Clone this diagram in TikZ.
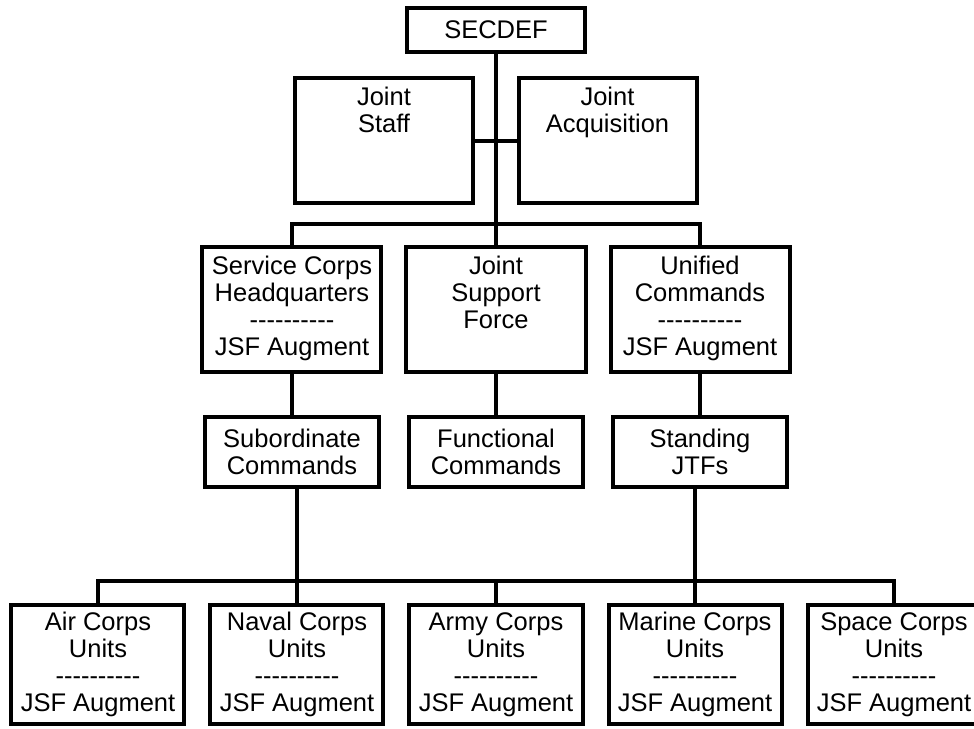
\documentclass[tikz,border=0pt]{standalone}
\usepackage{fontspec}
\setmainfont{Liberation Sans}[Ligatures=TeXOff]
\usetikzlibrary{positioning}

\begin{document}
\begin{tikzpicture}[on grid,line width=4pt,
		box/.style={draw,inner sep=0pt,align=center,font=\fontsize{25.5pt}{27pt}\selectfont},
		secbox/.style={box,minimum width=178pt,minimum height=44pt},
		tallbox/.style={box,minimum width=178pt,inner ysep=9pt,text depth=62pt},
		midbox/.style={box,minimum width=179pt,inner ysep=9pt,text depth=8pt},
		cmdbox/.style={box,minimum width=174pt,minimum height=70pt},
		unitbox/.style={box,minimum width=173pt,minimum height=119pt}]
				\useasboundingbox (-496pt,30pt) rectangle (478pt,-698pt);
				\node[secbox] (secdef) at (0,0) {SECDEF};
				\node[tallbox] (staff) [below left=110.5pt and 112pt of secdef] {Joint\\Staff};
				\node[tallbox] (acq) [below right=110.5pt and 111.5pt of secdef] {Joint\\Acquisition};
				\node[midbox,text depth=35pt] (jsf) [below=279.5pt of secdef] {Joint\\Support\\Force};
				\node[midbox] (service) [left=204pt of jsf] {Service Corps\\Headquarters\\----------\\JSF Augment};
				\node[midbox] (unified) [right=204pt of jsf] {Unified\\Commands\\----------\\JSF Augment};
				\node[cmdbox] (sub) [below=142.5pt of service] {Subordinate\\Commands};
				\node[cmdbox] (func) [below=142.5pt of jsf] {Functional\\Commands};
				\node[cmdbox] (jtf) [below=142.5pt of unified] {Standing\\JTFs};
				\node[unitbox] (army) [below=212.5pt of func] {Army Corps\\Units\\----------\\JSF Augment};
				\node[unitbox] (naval) [left=199pt of army] {Naval Corps\\Units\\----------\\JSF Augment};
				\node[unitbox] (air) [left=199pt of naval] {Air Corps\\Units\\----------\\JSF Augment};
				\node[unitbox] (marine) [right=199pt of army] {Marine Corps\\Units\\----------\\JSF Augment};
				\node[unitbox] (space) [right=199pt of marine] {Space Corps\\Units\\----------\\JSF Augment};
				\coordinate (topbus) at ([yshift=21pt]jsf.north);
				\coordinate (lowbus) at ([yshift=22pt]army.north);
				\draw (secdef) -- (jsf);
				\draw (staff) -- (acq);
				\draw (service.north) |- (topbus) -| (unified.north);
				\draw (service) -- (sub);
				\draw (jsf) -- (func);
				\draw (unified) -- (jtf);
				\draw (air.north) |- (lowbus) -| (space.north);
				\draw (naval.north) -- (naval.north |- sub.south);
				\draw (army.north) -- (lowbus);
				\draw (marine.north) -- (marine.north |- jtf.south);
			\end{tikzpicture}
\end{document}
